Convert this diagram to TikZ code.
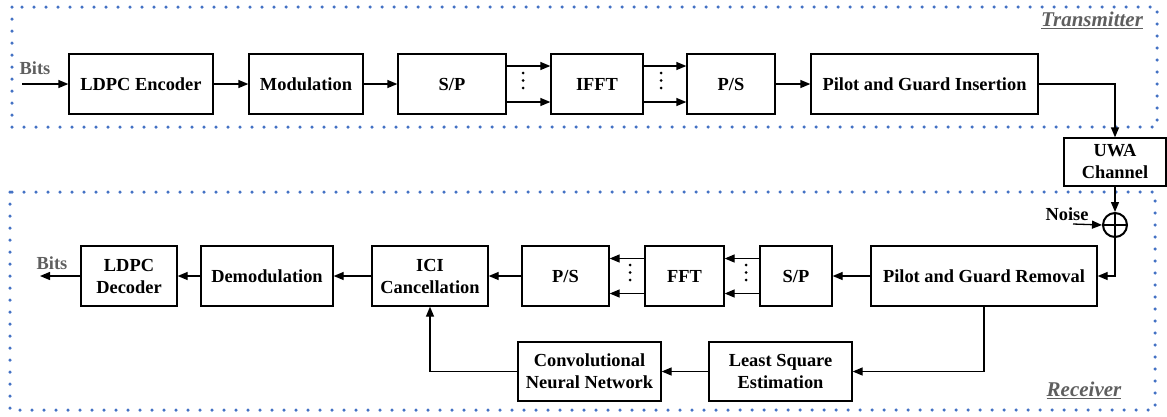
\documentclass[tikz,border=0pt]{standalone}
\usepackage{fontspec}
\setmainfont{Liberation Serif}
\usetikzlibrary{arrows.meta}
\definecolor{dotblue}{HTML}{4472C4}
\definecolor{labelgray}{HTML}{5F5F5F}
\begin{document}
\begin{tikzpicture}[x=1pt,y=-1pt,
  font=\fontsize{18.4}{22}\selectfont\bfseries,
  blk/.style={draw, line width=1.3pt, align=center, inner sep=0pt, minimum height=60pt},
  conn/.style={line width=1.3pt, -{Triangle[length=10pt,width=8pt]}},
  region/.style={draw=dotblue, line width=3.5pt, line cap=round, dash pattern=on 0pt off 12pt},
  tag/.style={font=\fontsize{21}{24}\selectfont\bfseries\itshape, text=labelgray},
  bitlabel/.style={text=labelgray},
  vdot/.style={fill=black}
]
\useasboundingbox (0,0) rectangle (1167,416);

% dotted frames around transmitter and receiver
\draw[region] (12,7) rectangle (1157,127);
\draw[region] (10,192) rectangle (1155,410);
\node[tag] (txtag) at (1092,20) {\underline{Transmitter}};
\node[tag] (rxtag) at (1084,390) {\underline{Receiver}};

% transmitter chain
\node[blk, minimum width=144pt] (enc)  at (141,84)   {LDPC Encoder};
\node[blk, minimum width=114pt] (mod)  at (306,84)   {Modulation};
\node[blk, minimum width=108pt] (sp1)  at (452,84)   {S/P};
\node[blk, minimum width=92pt]  (ifft) at (597,84)   {IFFT};
\node[blk, minimum width=88pt]  (ps1)  at (731,84)   {P/S};
\node[blk, minimum width=227pt] (pgi)  at (924.5,84) {Pilot and Guard Insertion};

% channel and noise
\node[blk, minimum width=102pt, minimum height=48pt] (uwa) at (1115,162) {UWA\\Channel};
\node[draw, circle, line width=2pt, minimum size=24pt, inner sep=0pt] (sum) at (1115,225) {};
\draw[line width=1.3pt] (sum.north) -- (sum.south) (sum.west) -- (sum.east);

% receiver chain
\node[blk, minimum width=96pt]  (dec)   at (129,276)   {LDPC\\Decoder};
\node[blk, minimum width=132pt] (demod) at (267,276)   {Demodulation};
\node[blk, minimum width=116pt] (ici)   at (430,276)   {ICI\\Cancellation};
\node[blk, minimum width=87pt]  (ps2)   at (565.5,276) {P/S};
\node[blk, minimum width=79pt]  (fft)   at (684.5,276) {FFT};
\node[blk, minimum width=72pt]  (sp2)   at (796,276)   {S/P};
\node[blk, minimum width=226pt] (pgr)   at (984,276)   {Pilot and Guard Removal};
\node[blk, minimum width=143pt, minimum height=59pt] (cnn) at (589.5,371.5) {Convolutional\\Neural Network};
\node[blk, minimum width=143pt, minimum height=59pt] (lse) at (780.5,371.5) {Least Square\\Estimation};

% free ends
\coordinate (bin)  at (22,84);
\coordinate (bout) at (40,276);
\coordinate (nz)   at (1073,224);
\node[bitlabel] (bitsin)  at (35,68)  {Bits};
\node[bitlabel] (bitsout) at (52,263) {Bits};
\node (noise) at (1067,214) {Noise};

% transmitter connectors
\draw[conn] (bin) -- (enc.west);
\draw[conn] (enc.east) -- (mod.west);
\draw[conn] (mod.east) -- (sp1.west);
\draw[conn] ([yshift=18pt]sp1.east) -- ([yshift=18pt]ifft.west);
\draw[conn] ([yshift=-18pt]sp1.east) -- ([yshift=-18pt]ifft.west);
\draw[conn] ([yshift=18pt]ifft.east) -- ([yshift=18pt]ps1.west);
\draw[conn] ([yshift=-18pt]ifft.east) -- ([yshift=-18pt]ps1.west);
\draw[conn] (ps1.east) -- (pgi.west);
\foreach \yy in {73,80.5,88} {
  \fill[vdot] (523,\yy) circle (1.5pt);
  \fill[vdot] (661,\yy) circle (1.5pt);
}

% channel connectors
\draw[conn] (pgi.east) -| (uwa.north);
\draw[conn] (uwa.south) -- (sum.north);
\draw[conn] (nz) -- (sum.west);
\draw[conn] (sum.south) |- (pgr.east);

% receiver connectors
\draw[conn] (pgr.west) -- (sp2.east);
\draw[conn] ([yshift=17.5pt]sp2.west) -- ([yshift=17.5pt]fft.east);
\draw[conn] ([yshift=-17.5pt]sp2.west) -- ([yshift=-17.5pt]fft.east);
\draw[conn] ([yshift=17.5pt]fft.west) -- ([yshift=17.5pt]ps2.east);
\draw[conn] ([yshift=-17.5pt]fft.west) -- ([yshift=-17.5pt]ps2.east);
\draw[conn] (ps2.west) -- (ici.east);
\draw[conn] (ici.west) -- (demod.east);
\draw[conn] (demod.west) -- (dec.east);
\draw[conn] (dec.west) -- (bout);
\foreach \yy in {265,272.5,280} {
  \fill[vdot] (630,\yy) circle (1.5pt);
  \fill[vdot] (746,\yy) circle (1.5pt);
}

% channel estimation loop
\draw[conn] (pgr.south) |- (lse.east);
\draw[conn] (lse.west) -- (cnn.east);
\draw[conn] (cnn.west) -| (ici.south);
\end{tikzpicture}
\end{document}
